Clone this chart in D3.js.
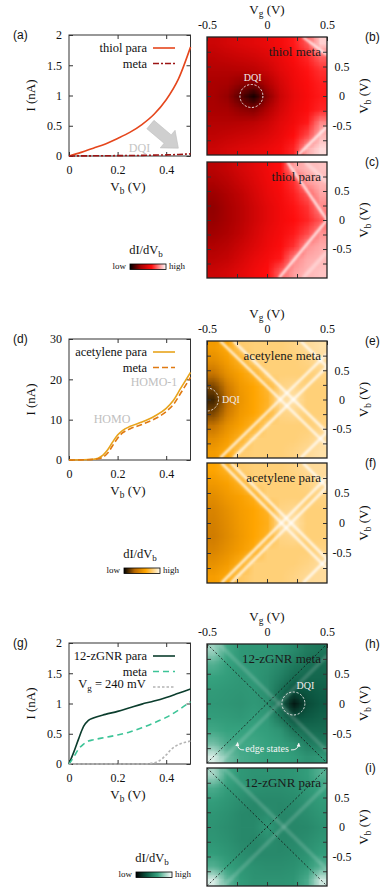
<!DOCTYPE html>
<html>
<head>
<meta charset="utf-8">
<script src="https://cdn.jsdelivr.net/npm/d3@7"></script>
<style>
body { margin: 0; background: #fff; }
svg { display: block; }
</style>
</head>
<body>
<svg id="fig" width="387" height="892"></svg>
<script>
// ---------- I-V curves ----------
const vbThiol = [0, 0.05, 0.1, 0.15, 0.2, 0.25, 0.3, 0.35, 0.4, 0.45, 0.5];
const thiolPara = [0, 0.06, 0.13, 0.2, 0.29, 0.39, 0.52, 0.69, 0.93, 1.27, 1.8];
const thiolMeta = [0, 0.002, 0.003, 0.004, 0.006, 0.008, 0.01, 0.014, 0.018, 0.025, 0.035];

const vbAcet = [0, 0.05, 0.1, 0.12, 0.14, 0.16, 0.18, 0.2, 0.22, 0.25, 0.3, 0.35, 0.4, 0.43, 0.46, 0.5];
const acetPara = [0, 0.05, 0.2, 0.45, 1.2, 2.6, 4.5, 6.2, 7.3, 8.3, 9.4, 10.8, 12.8, 14.8, 17.8, 21.7];
const acetMeta = [0, 0.04, 0.15, 0.3, 0.7, 1.8, 3.6, 5.4, 6.7, 7.7, 8.8, 10.1, 12.0, 13.8, 16.6, 20.5];

const vbGnr = [0, 0.02, 0.04, 0.06, 0.08, 0.1, 0.15, 0.2, 0.25, 0.3, 0.35, 0.4, 0.45, 0.5];
const gnrPara = [0, 0.2, 0.42, 0.62, 0.72, 0.76, 0.82, 0.87, 0.93, 0.99, 1.04, 1.1, 1.17, 1.24];
const gnrMeta = [0, 0.12, 0.25, 0.33, 0.38, 0.40, 0.44, 0.48, 0.53, 0.60, 0.68, 0.77, 0.89, 1.03];
const vbGnrGate = [0, 0.1, 0.2, 0.3, 0.35, 0.37, 0.4, 0.42, 0.45, 0.48, 0.5];
const gnrGate240 = [0, 0, 0, 0, 0.02, 0.05, 0.15, 0.24, 0.32, 0.36, 0.38];

// ---------- dI/dVb maps, rows Vb high->low, cols Vg low->high (0 = low, 1 = high) ----------
const mapThiolMeta = [
  [0.42, 0.45, 0.48, 0.50, 0.53, 0.57, 0.62, 0.72, 0.92],
  [0.38, 0.40, 0.42, 0.44, 0.48, 0.53, 0.59, 0.64, 0.74],
  [0.34, 0.34, 0.35, 0.37, 0.42, 0.50, 0.56, 0.61, 0.66],
  [0.31, 0.30, 0.26, 0.24, 0.33, 0.45, 0.54, 0.59, 0.63],
  [0.30, 0.27, 0.16, 0.04, 0.25, 0.42, 0.52, 0.58, 0.62],
  [0.31, 0.30, 0.26, 0.24, 0.33, 0.45, 0.54, 0.59, 0.64],
  [0.34, 0.34, 0.35, 0.37, 0.42, 0.50, 0.56, 0.62, 0.80],
  [0.38, 0.40, 0.42, 0.44, 0.48, 0.53, 0.60, 0.70, 0.88],
  [0.42, 0.45, 0.48, 0.50, 0.53, 0.57, 0.64, 0.86, 0.94]
];
const mapThiolPara = [
  [0.36, 0.40, 0.45, 0.50, 0.55, 0.60, 0.84, 0.88, 0.90],
  [0.32, 0.36, 0.42, 0.48, 0.54, 0.59, 0.66, 0.84, 0.88],
  [0.28, 0.32, 0.38, 0.45, 0.52, 0.57, 0.63, 0.72, 0.85],
  [0.26, 0.30, 0.36, 0.43, 0.50, 0.56, 0.61, 0.66, 0.80],
  [0.27, 0.30, 0.36, 0.43, 0.50, 0.56, 0.60, 0.64, 0.72],
  [0.29, 0.32, 0.38, 0.45, 0.52, 0.57, 0.62, 0.70, 0.82],
  [0.33, 0.36, 0.42, 0.48, 0.54, 0.59, 0.66, 0.82, 0.86],
  [0.37, 0.40, 0.46, 0.52, 0.57, 0.62, 0.80, 0.86, 0.88],
  [0.42, 0.45, 0.50, 0.55, 0.60, 0.74, 0.84, 0.88, 0.90]
];
const mapAcetMeta = [
  [0.55, 0.62, 0.78, 0.80, 0.80, 0.80, 0.82, 0.85, 0.88],
  [0.48, 0.56, 0.66, 0.80, 0.80, 0.80, 0.80, 0.82, 0.86],
  [0.36, 0.50, 0.58, 0.66, 0.80, 0.80, 0.80, 0.80, 0.82],
  [0.20, 0.40, 0.54, 0.60, 0.68, 0.82, 0.84, 0.80, 0.80],
  [0.10, 0.34, 0.52, 0.60, 0.66, 0.86, 0.88, 0.80, 0.80],
  [0.20, 0.40, 0.54, 0.60, 0.68, 0.82, 0.84, 0.80, 0.80],
  [0.36, 0.50, 0.58, 0.66, 0.80, 0.80, 0.80, 0.80, 0.82],
  [0.48, 0.56, 0.66, 0.80, 0.80, 0.80, 0.80, 0.82, 0.86],
  [0.55, 0.62, 0.78, 0.80, 0.80, 0.80, 0.82, 0.85, 0.88]
];
const mapAcetPara = [
  [0.60, 0.66, 0.78, 0.80, 0.80, 0.80, 0.82, 0.85, 0.86],
  [0.54, 0.58, 0.66, 0.80, 0.80, 0.80, 0.80, 0.82, 0.86],
  [0.48, 0.54, 0.58, 0.64, 0.80, 0.80, 0.80, 0.80, 0.82],
  [0.44, 0.50, 0.56, 0.60, 0.66, 0.82, 0.84, 0.80, 0.80],
  [0.42, 0.48, 0.55, 0.60, 0.64, 0.86, 0.88, 0.80, 0.80],
  [0.40, 0.47, 0.54, 0.60, 0.66, 0.82, 0.84, 0.80, 0.80],
  [0.44, 0.50, 0.56, 0.63, 0.80, 0.80, 0.80, 0.80, 0.82],
  [0.50, 0.55, 0.64, 0.80, 0.80, 0.80, 0.80, 0.82, 0.86],
  [0.56, 0.62, 0.76, 0.80, 0.80, 0.80, 0.82, 0.85, 0.86]
];
const mapGnrMeta = [
  [0.80, 0.62, 0.56, 0.55, 0.55, 0.54, 0.50, 0.44, 0.42],
  [0.66, 0.60, 0.56, 0.55, 0.54, 0.50, 0.44, 0.40, 0.38],
  [0.60, 0.58, 0.56, 0.56, 0.52, 0.46, 0.38, 0.36, 0.36],
  [0.57, 0.56, 0.55, 0.56, 0.52, 0.40, 0.28, 0.30, 0.33],
  [0.56, 0.55, 0.54, 0.56, 0.54, 0.36, 0.08, 0.26, 0.31],
  [0.58, 0.57, 0.56, 0.58, 0.56, 0.42, 0.28, 0.31, 0.34],
  [0.62, 0.60, 0.60, 0.60, 0.58, 0.54, 0.42, 0.38, 0.38],
  [0.72, 0.64, 0.62, 0.62, 0.60, 0.58, 0.54, 0.46, 0.44],
  [0.92, 0.72, 0.64, 0.62, 0.60, 0.60, 0.58, 0.54, 0.56]
];
const mapGnrPara = [
  [0.82, 0.62, 0.56, 0.54, 0.54, 0.54, 0.55, 0.58, 0.66],
  [0.64, 0.58, 0.55, 0.53, 0.52, 0.52, 0.53, 0.56, 0.60],
  [0.58, 0.55, 0.52, 0.50, 0.50, 0.50, 0.51, 0.54, 0.57],
  [0.55, 0.53, 0.50, 0.49, 0.52, 0.49, 0.50, 0.52, 0.55],
  [0.54, 0.52, 0.50, 0.50, 0.56, 0.50, 0.49, 0.50, 0.53],
  [0.55, 0.53, 0.50, 0.49, 0.52, 0.49, 0.50, 0.52, 0.55],
  [0.58, 0.55, 0.52, 0.50, 0.50, 0.50, 0.51, 0.54, 0.58],
  [0.66, 0.59, 0.55, 0.53, 0.52, 0.52, 0.53, 0.57, 0.66],
  [0.92, 0.68, 0.57, 0.54, 0.54, 0.54, 0.55, 0.64, 0.90]
];

// resonance lines [Vg1, Vb1, Vg2, Vb2]
const linesThiolMeta = [[0.26, -1, 0.5, -0.52], [0.30, 1, 0.5, 0.70]];
const linesThiolPara = [[0.17, 1, 0.5, 0], [0.5, 0, 0.10, -1]];
const faintThiolPara = [[0.32, 1, 0.5, 0.65], [0.5, -0.55, 0.30, -1]];
const linesAcetMeta = [[-0.39, 1, 0.5, -0.78], [-0.28, 1, 0.5, -0.56], [-0.39, -1, 0.5, 0.78], [-0.28, -1, 0.5, 0.56], [0.28, 1, 0.5, 0.56], [0.28, -1, 0.5, -0.56]];
const linesAcetPara = [[-0.38, 1, 0.5, -0.76], [-0.30, 1, 0.5, -0.60], [-0.38, -1, 0.5, 0.76], [-0.30, -1, 0.5, 0.60], [0.30, 1, 0.5, 0.60], [0.30, -1, 0.5, -0.60]];
const faintGnrMeta = [[-0.40, 1, 0.5, -0.80], [-0.40, -1, 0.5, 0.80]];
const faintGnrPara = [[-0.36, 1, 0.5, -0.72], [-0.36, -1, 0.5, 0.72]];
const diagonals = [[-0.5, 1, 0.5, -1], [-0.5, -1, 0.5, 1]];

const serif = "'Liberation Serif', 'DejaVu Serif', serif";
const sans = "'Liberation Sans', Arial, sans-serif";

const redScale = d3.scaleLinear().domain([0, 0.3, 0.6, 1]).range(["#000000", "#a80000", "#ff0d0d", "#ffffff"]).clamp(true);
const orangeScale = d3.scaleLinear().domain([0, 0.3, 0.6, 1]).range(["#000000", "#b86800", "#ffa500", "#fffaf0"]).clamp(true);
const greenScale = d3.scaleLinear().domain([0, 0.3, 0.6, 1]).range(["#000000", "#0c5842", "#36a27f", "#ffffff"]).clamp(true);

const svg = d3.select("#fig");
const defs = svg.append("defs");
defs.append("filter").attr("id", "soft")
	.attr("filterUnits", "userSpaceOnUse")
	.attr("x", 0).attr("y", 0).attr("width", 387).attr("height", 892)
	.append("feGaussianBlur").attr("stdDeviation", 1.1);

function styleAxis(g) {
	g.select(".domain").remove();
	g.selectAll(".tick line").attr("stroke", "#333");
	g.selectAll("text").attr("font-family", serif).attr("font-size", 12).attr("fill", "#111");
}

// text with a subscript, e.g. V_b (V)
function subLabel(g, base, sub, rest, x, y, rot, size) {
	const t = g.append("text")
		.attr("transform", `translate(${x},${y}) rotate(${rot})`)
		.attr("text-anchor", "middle")
		.attr("font-family", serif)
		.attr("font-size", size || 13)
		.attr("fill", "#111");
	t.append("tspan").text(base);
	t.append("tspan").attr("dy", 3).attr("font-size", (size || 13) * 0.72).text(sub);
	t.append("tspan").attr("dy", -3).text(rest);
	return t;
}

// ---------- I-V panels ----------
function linePanel(o) {
	const x = d3.scaleLinear().domain([0, 0.5]).range([69, 190.5]);
	const y = d3.scaleLinear().domain([0, o.yMax]).range([o.bottom, o.top]);
	const g = svg.append("g");

	g.append("g").attr("transform", `translate(0,${o.bottom})`)
		.call(d3.axisBottom(x).tickValues([0, 0.2, 0.4]).tickSizeInner(-4).tickSizeOuter(0).tickPadding(9).tickFormat(d => String(d)))
		.call(styleAxis);
	g.append("g").attr("transform", `translate(0,${o.top})`)
		.call(d3.axisTop(x).tickValues([0.2, 0.4]).tickSizeInner(-4).tickSizeOuter(0).tickFormat(""))
		.call(styleAxis);
	g.append("g").attr("transform", "translate(69,0)")
		.call(d3.axisLeft(y).tickValues(o.yTicks).tickSizeInner(-4).tickSizeOuter(0).tickPadding(7).tickFormat(d => String(d)))
		.call(styleAxis);
	g.append("g").attr("transform", "translate(190.5,0)")
		.call(d3.axisRight(y).tickValues(o.yTicks).tickSizeInner(-4).tickSizeOuter(0).tickFormat(""))
		.call(styleAxis);

	g.append("rect")
		.attr("x", x(0)).attr("y", y(o.yMax))
		.attr("width", x(0.5) - x(0)).attr("height", y(0) - y(o.yMax))
		.attr("fill", "none").attr("stroke", "#333").attr("stroke-width", 1);

	const curves = g.append("g");
	o.series.forEach(s => {
		const line = d3.line()
			.x((d, i) => x(s.x[i]))
			.y(d => y(d))
			.curve(d3.curveMonotoneX);
		curves.append("path")
			.attr("d", line(s.y))
			.attr("fill", "none")
			.attr("stroke", s.color)
			.attr("stroke-width", s.width || 1.6)
			.attr("stroke-dasharray", s.dash || null);
	});

	// legend
	o.series.forEach((s, i) => {
		const ly = o.top + 13 + i * 15.5;
		g.append("text").attr("x", 147).attr("y", ly + 4)
			.attr("text-anchor", "end").attr("font-family", serif).attr("font-size", 12.5).attr("fill", "#111")
			.text(s.label);
		g.append("line").attr("x1", 153).attr("x2", 175).attr("y1", ly).attr("y2", ly)
			.attr("stroke", s.color).attr("stroke-width", s.width || 1.6)
			.attr("stroke-dasharray", s.dash || null);
	});

	g.append("text").attr("x", 13).attr("y", o.top + 4)
		.attr("font-family", sans).attr("font-size", 12).attr("fill", "#111").text(o.letter);
	g.append("text")
		.attr("transform", `translate(35,${(o.top + o.bottom) / 2}) rotate(-90)`)
		.attr("text-anchor", "middle").attr("font-family", serif).attr("font-size", 13).attr("fill", "#111")
		.text("I (nA)");
	subLabel(g, "V", "b", " (V)", 128, o.bottom + 35, 0);

	return {g, x, y};
}

const pa = linePanel({
	top: 35, bottom: 156, yMax: 2, yTicks: [0, 0.5, 1, 1.5, 2], letter: "(a)",
	series: [
		{x: vbThiol, y: thiolPara, color: "#e5461c", label: "thiol para"},
		{x: vbThiol, y: thiolMeta, color: "#9c1414", dash: "6,2,2,2", label: "meta"}
	]
});

// grey DQI arrow in (a)
(function () {
	const p0 = [pa.x(0.335), pa.y(0.52)];
	const p1 = [pa.x(0.45), pa.y(0.13)];
	const dx = p1[0] - p0[0], dy = p1[1] - p0[1];
	const L = Math.hypot(dx, dy), ux = dx / L, uy = dy / L, nx = -uy, ny = ux;
	const head = 14, hw = 11.5, sw = 5.5;
	const b = [p1[0] - ux * head, p1[1] - uy * head];
	const pts = [
		[p0[0] + nx * sw, p0[1] + ny * sw], [b[0] + nx * sw, b[1] + ny * sw], [b[0] + nx * hw, b[1] + ny * hw],
		p1, [b[0] - nx * hw, b[1] - ny * hw], [b[0] - nx * sw, b[1] - ny * sw], [p0[0] - nx * sw, p0[1] - ny * sw]
	];
	pa.g.append("path").attr("d", "M" + pts.join("L") + "Z")
		.attr("fill", "#cfcfcf").attr("stroke", "#bcbcbc").attr("stroke-width", 0.6);
	pa.g.append("text").attr("x", pa.x(0.29)).attr("y", pa.y(0.06))
		.attr("text-anchor", "middle").attr("font-family", serif).attr("font-size", 12).attr("fill", "#c4c4c4").text("DQI");
})();

const pd = linePanel({
	top: 339, bottom: 460, yMax: 30, yTicks: [0, 10, 20, 30], letter: "(d)",
	series: [
		{x: vbAcet, y: acetPara, color: "#e8a41c", label: "acetylene para"},
		{x: vbAcet, y: acetMeta, color: "#e07a12", dash: "6,3", label: "meta"}
	]
});
pd.g.append("text").attr("x", pd.x(0.35)).attr("y", pd.y(18.4))
	.attr("text-anchor", "middle").attr("font-family", serif).attr("font-size", 12).attr("fill", "#c0c0c0").text("HOMO-1");
pd.g.append("text").attr("x", pd.x(0.177)).attr("y", pd.y(9.2))
	.attr("text-anchor", "middle").attr("font-family", serif).attr("font-size", 12).attr("fill", "#c0c0c0").text("HOMO");

const pg = linePanel({
	top: 643, bottom: 764, yMax: 2, yTicks: [0, 0.5, 1, 1.5, 2], letter: "(g)",
	series: [
		{x: vbGnr, y: gnrPara, color: "#0b3d2d", label: "12-zGNR  para"},
		{x: vbGnr, y: gnrMeta, color: "#3cc497", dash: "6,4", label: "meta"},
		{x: vbGnrGate, y: gnrGate240, color: "#b4b4b4", dash: "2.5,2", label: ""}
	]
});
subLabel(pg.g, "V", "g", " = 240 mV", 112, 688, 0, 12.5);

// ---------- colour bars ----------
function colorBar(id, scale, x0, y0, w, h) {
	const grad = defs.append("linearGradient").attr("id", id);
	d3.range(0, 1.0001, 0.1).forEach(t => {
		grad.append("stop").attr("offset", t).attr("stop-color", scale(t));
	});
	const g = svg.append("g");
	g.append("rect").attr("x", x0).attr("y", y0).attr("width", w).attr("height", h)
		.attr("fill", `url(#${id})`).attr("stroke", "#000").attr("stroke-width", 0.8);
	g.append("text").attr("x", x0 - 4).attr("y", y0 + h - 0.5).attr("text-anchor", "end")
		.attr("font-family", serif).attr("font-size", 9).attr("fill", "#111").text("low");
	g.append("text").attr("x", x0 + w + 3).attr("y", y0 + h - 0.5)
		.attr("font-family", serif).attr("font-size", 9).attr("fill", "#111").text("high");
	subLabel(g, "dI/dV", "b", "", x0 + w / 2 - 2, y0 - 10, 0, 12.5);
}
colorBar("cbRed", redScale, 130, 264, 36, 5.5);
colorBar("cbOrange", orangeScale, 124, 568, 36, 5.5);
colorBar("cbGreen", greenScale, 136, 872, 36, 5.5);

// ---------- maps ----------
function gridImage(grid, scale) {
	const rows = grid.length, cols = grid[0].length;
	const cv = document.createElement("canvas");
	cv.width = cols;
	cv.height = rows;
	const ctx = cv.getContext("2d");
	const img = ctx.createImageData(cols, rows);
	grid.forEach((row, j) => row.forEach((v, i) => {
		const c = d3.rgb(scale(v));
		const k = (j * cols + i) * 4;
		img.data[k] = c.r;
		img.data[k + 1] = c.g;
		img.data[k + 2] = c.b;
		img.data[k + 3] = 255;
	}));
	ctx.putImageData(img, 0, 0);
	return cv.toDataURL();
}

function heatPanel(o) {
	const x = d3.scaleLinear().domain([-0.5, 0.5]).range([207, 327]);
	const y = d3.scaleLinear().domain([-1, 1]).range([o.bottom, o.top]);
	const id = "clip" + o.key;
	defs.append("clipPath").attr("id", id).append("rect")
		.attr("x", x(-0.5)).attr("y", y(1))
		.attr("width", x(0.5) - x(-0.5)).attr("height", y(-1) - y(1));

	const g = svg.append("g");
	const inner = g.append("g").attr("clip-path", `url(#${id})`);

	inner.append("image")
		.attr("href", gridImage(o.grid, o.scale))
		.attr("x", x(-0.5)).attr("y", y(1))
		.attr("width", x(0.5) - x(-0.5)).attr("height", y(-1) - y(1))
		.attr("preserveAspectRatio", "none");

	const glow = inner.append("g").attr("filter", "url(#soft)");
	glow.selectAll(".faint").data(o.faint || []).join("line")
		.attr("class", "faint")
		.attr("x1", d => x(d[0])).attr("y1", d => y(d[1]))
		.attr("x2", d => x(d[2])).attr("y2", d => y(d[3]))
		.attr("stroke", "#fff").attr("stroke-opacity", o.faintOpacity || 0.35).attr("stroke-width", 4);
	glow.selectAll(".res").data(o.lines || []).join("line")
		.attr("class", "res")
		.attr("x1", d => x(d[0])).attr("y1", d => y(d[1]))
		.attr("x2", d => x(d[2])).attr("y2", d => y(d[3]))
		.attr("stroke", "#fff").attr("stroke-opacity", 0.8).attr("stroke-width", 2.6);

	if (o.diag) {
		inner.selectAll(".diag").data(diagonals).join("line")
			.attr("class", "diag")
			.attr("x1", d => x(d[0])).attr("y1", d => y(d[1]))
			.attr("x2", d => x(d[2])).attr("y2", d => y(d[3]))
			.attr("stroke", "#111").attr("stroke-width", 0.8).attr("stroke-dasharray", "2,2");
	}
	if (o.dqi) {
		inner.append("circle").attr("cx", x(o.dqi[0])).attr("cy", y(o.dqi[1])).attr("r", 11.5)
			.attr("fill", "none").attr("stroke", "#f4f0f0").attr("stroke-width", 0.9).attr("stroke-dasharray", "2.2,1.6");
		g.append("text").attr("x", x(o.dqiText[0])).attr("y", y(o.dqiText[1]) + 3.5)
			.attr("text-anchor", "middle").attr("font-family", serif).attr("font-size", 10).attr("fill", "#f2ecec").text("DQI");
	}

	// inward ticks on all sides
	const xt = [-0.25, 0, 0.25];
	const yt = [-0.75, -0.5, -0.25, 0, 0.25, 0.5, 0.75];
	g.append("g").attr("transform", `translate(0,${o.top})`)
		.call(d3.axisTop(x).tickValues(o.showTop ? [-0.5, -0.25, 0, 0.25, 0.5] : xt).tickSizeInner(-4).tickSizeOuter(0).tickPadding(8)
			.tickFormat(d => (o.showTop && d % 0.5 === 0) ? String(d) : ""))
		.call(styleAxis);
	g.append("g").attr("transform", `translate(0,${o.bottom})`)
		.call(d3.axisBottom(x).tickValues(xt).tickSizeInner(-4).tickSizeOuter(0).tickFormat(""))
		.call(styleAxis);
	g.append("g").attr("transform", `translate(${x(-0.5)},0)`)
		.call(d3.axisLeft(y).tickValues(yt).tickSizeInner(-4).tickSizeOuter(0).tickFormat(""))
		.call(styleAxis);
	const ra = g.append("g").attr("transform", `translate(${x(0.5)},0)`)
		.call(d3.axisRight(y).tickValues(yt).tickSizeInner(-4).tickSizeOuter(0).tickPadding(15)
			.tickFormat(d => d % 0.5 === 0 ? String(d) : ""))
		.call(styleAxis);
	ra.selectAll("text").attr("text-anchor", "middle");

	g.append("rect")
		.attr("x", x(-0.5)).attr("y", y(1))
		.attr("width", x(0.5) - x(-0.5)).attr("height", y(-1) - y(1))
		.attr("fill", "none").attr("stroke", "#222").attr("stroke-width", 1.3);

	g.append("text").attr("x", x(0.45)).attr("y", o.top + 19)
		.attr("text-anchor", "end").attr("font-family", serif).attr("font-size", 13).attr("fill", "#1a1a1a")
		.text(o.title);
	g.append("text").attr("x", 365).attr("y", o.top + 4)
		.attr("font-family", sans).attr("font-size", 12).attr("fill", "#111").text(o.letter);
	subLabel(g, "V", "b", " (V)", 368, (o.top + o.bottom) / 2, -90);
	if (o.showTop) subLabel(g, "V", "g", " (V)", 267, o.top - 23, 0);

	return {g, x, y};
}

heatPanel({key: "b", top: 37, bottom: 155, grid: mapThiolMeta, scale: redScale, lines: linesThiolMeta,
	title: "thiol meta", letter: "(b)", showTop: true, dqi: [-0.13, 0], dqiText: [-0.12, 0.32]});
heatPanel({key: "c", top: 162, bottom: 278, grid: mapThiolPara, scale: redScale, lines: linesThiolPara, faint: faintThiolPara,
	title: "thiol para", letter: "(c)"});
heatPanel({key: "e", top: 341, bottom: 458, grid: mapAcetMeta, scale: orangeScale, lines: linesAcetMeta,
	title: "acetylene meta", letter: "(e)", showTop: true, dqi: [-0.5, 0], dqiText: [-0.3, 0]});
heatPanel({key: "f", top: 463, bottom: 583, grid: mapAcetPara, scale: orangeScale, lines: linesAcetPara,
	title: "acetylene para", letter: "(f)"});
const ph = heatPanel({key: "h", top: 644, bottom: 763, grid: mapGnrMeta, scale: greenScale, faint: faintGnrMeta, faintOpacity: 0.15, diag: true,
	title: "12-zGNR meta", letter: "(h)", showTop: true, dqi: [0.22, 0], dqiText: [0.32, 0.31]});
heatPanel({key: "i", top: 768, bottom: 886, grid: mapGnrPara, scale: greenScale, faint: faintGnrPara, faintOpacity: 0.15, diag: true,
	title: "12-zGNR para", letter: "(i)"});

// edge states note in (h)
ph.g.append("text").attr("x", ph.x(0)).attr("y", ph.y(-0.75) + 3.5)
	.attr("text-anchor", "middle").attr("font-family", serif).attr("font-size", 10).attr("fill", "#f4f4f4").text("edge states");
defs.append("marker").attr("id", "tip").attr("viewBox", "0 0 6 6").attr("refX", 5).attr("refY", 3)
	.attr("markerWidth", 4).attr("markerHeight", 4).attr("orient", "auto")
	.append("path").attr("d", "M0,0L6,3L0,6Z").attr("fill", "#f4f4f4");
[[-0.19, -0.78, -0.25, -0.79, -0.245, -0.66], [0.2, -0.78, 0.26, -0.79, 0.265, -0.67]].forEach(a => {
	ph.g.append("path")
		.attr("d", `M${ph.x(a[0])},${ph.y(a[1])}Q${ph.x(a[2])},${ph.y(a[3])} ${ph.x(a[4])},${ph.y(a[5])}`)
		.attr("fill", "none").attr("stroke", "#f4f4f4").attr("stroke-width", 1)
		.attr("marker-end", "url(#tip)");
});
</script>
</body>
</html>
